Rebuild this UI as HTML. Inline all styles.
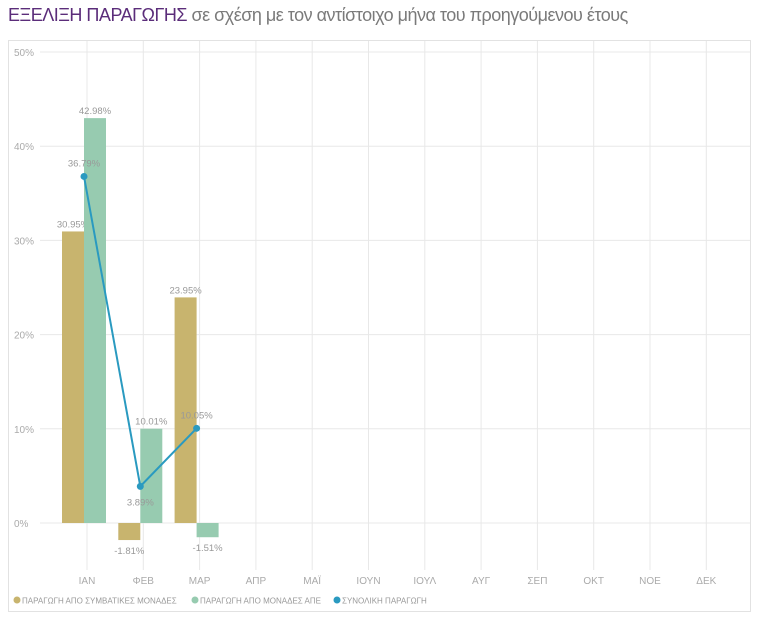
<!DOCTYPE html>
<html><head><meta charset="utf-8"><style>
body{margin:0;background:#fff;width:760px;height:628px;overflow:hidden;font-family:"Liberation Sans","DejaVu Sans",sans-serif;}
#title{position:absolute;left:8px;top:5px;font-size:18px;color:#7a7a7a;white-space:nowrap;letter-spacing:-0.5px}
#title b{font-weight:normal;color:#5b2d7a}
</style></head><body>
<div id="title"><b>ΕΞΕΛΙΞΗ ΠΑΡΑΓΩΓΗΣ</b> σε σχέση με τον αντίστοιχο μήνα του προηγούμενου έτους</div>
<svg id="chart" width="760" height="628" style="position:absolute;left:0;top:0"></svg>
<script>
const categories=["ΙΑΝ","ΦΕΒ","ΜΑΡ","ΑΠΡ","ΜΑΪ","ΙΟΥΝ","ΙΟΥΛ","ΑΥΓ","ΣΕΠ","ΟΚΤ","ΝΟΕ","ΔΕΚ"];
const conventional=[30.95,-1.81,23.95];
const renewable=[42.98,10.01,-1.51];
const total=[36.79,3.89,10.05];
const yTicks=[0,10,20,30,40,50];
const svg=document.getElementById('chart');
const NS='http://www.w3.org/2000/svg';
function el(t,a,p){const e=document.createElementNS(NS,t);for(const k in a)e.setAttribute(k,a[k]);(p||svg).appendChild(e);return e;}
function y(v){return 523-v*9.42;}
function x(i){return 84+i*56.3;}
const frame=el('rect',{x:8.5,y:40.5,width:742,height:571,fill:'none',stroke:'#e2e2e2'});

yTicks.forEach(t=>{
 const l=el('line',{x1:40,x2:750,y1:y(t),y2:y(t),stroke:'#e8e8e8'});
 
 const tx=el('text',{x:14,y:y(t)+4,'font-size':10,fill:'#aaa'});tx.textContent=t+'%';
 
});
categories.forEach((c,i)=>{
 const l=el('line',{x1:x(i)+3,x2:x(i)+3,y1:41,y2:570,stroke:'#e8e8e8'});
 
 const tx=el('text',{x:x(i)+3,y:584,'font-size':10,fill:'#aaa','text-anchor':'middle'});tx.textContent=c;
 
});
function lbl(txt,xx,yy,name){const t=el('text',{x:xx,y:yy,'font-size':9.5,fill:'#999','text-anchor':'middle'});t.textContent=txt;}
const fmt=v=>v.toFixed(2)+'%';
conventional.forEach((v,i)=>{
 const r=el('rect',{x:x(i)-22,y:Math.min(y(v),y(0)),width:22,height:Math.abs(y(v)-y(0)),fill:'#c8b46e'});
 
 lbl(fmt(v),x(i)-11,v>=0?y(v)-4:y(v)+14,'value-label-conventional');
});
renewable.forEach((v,i)=>{
 const r=el('rect',{x:x(i),y:Math.min(y(v),y(0)),width:22,height:Math.abs(y(v)-y(0)),fill:'#97cbb0'});
 
 lbl(fmt(v),x(i)+11,v>=0?y(v)-4:y(v)+14,'value-label-renewable');
});
const pl=el('polyline',{points:total.map((v,i)=>x(i)+','+y(v)).join(' '),fill:'none',stroke:'#2a9ac0','stroke-width':2});

total.forEach((v,i)=>{
 const c=el('circle',{cx:x(i),cy:y(v),r:3.5,fill:'#2a9ac0'});
 
 lbl(fmt(v),x(i),i==1?y(v)+19:y(v)-10,'value-label-total');
});
const leg=[["#c8b46e","ΠΑΡΑΓΩΓΗ ΑΠΟ ΣΥΜΒΑΤΙΚΕΣ ΜΟΝΑΔΕΣ",13],["#97cbb0","ΠΑΡΑΓΩΓΗ ΑΠΟ ΜΟΝΑΔΕΣ ΑΠΕ",191],["#2a9ac0","ΣΥΝΟΛΙΚΗ ΠΑΡΑΓΩΓΗ",333]];
leg.forEach(([col,txt,lx])=>{
 const g=el('g',{});
 el('circle',{cx:lx+4,cy:600,r:3.5,fill:col},g);
 const t=el('text',{x:lx+9,y:603.5,'font-size':8,fill:'#999'},g);t.textContent=txt;
});
</script>
</body></html>
